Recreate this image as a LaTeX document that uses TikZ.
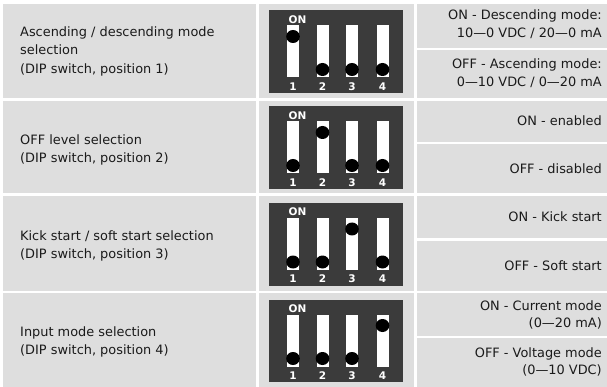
\documentclass[tikz,border=0pt]{standalone}
\usepackage{fontspec}
\setmainfont{DejaVu Sans}
\definecolor{cellgray}{HTML}{DEDEDE}
\definecolor{dipgray}{HTML}{3B3B3B}
\definecolor{txt}{HTML}{1A1A1A}
\tikzset{
  cell/.style={fill=cellgray},
  lefttext/.style={anchor=west, align=left, text=txt, font=\fontsize{12.9}{18.5}\selectfont, inner sep=0pt},
  righttext/.style={anchor=east, align=right, text=txt, font=\fontsize{12.9}{17.5}\selectfont, inner sep=0pt},
  diplabel/.style={text=white, font=\bfseries\fontsize{10.5}{11}\selectfont, inner sep=0pt},
}
\newcommand\dipswitch[3]{% #1 top y, #2 index switched ON, #3 name
  \fill[dipgray] (269,#1) rectangle (403,#1+82.5);
  \node[diplabel] (#3on) at (297.5,#1+9) {ON};
  \foreach \i/\xc in {1/293,2/322.5,3/352,4/382.5} {
    \fill[white] (\xc-6,#1+15) rectangle (\xc+6,#1+67);
    \ifnum\i=#2
      \fill[black] (\xc,#1+26) ellipse (6.8 and 6.5);
    \else
      \fill[black] (\xc,#1+59) ellipse (6.8 and 6.5);
    \fi
    \node[diplabel] (#3n\i) at (\xc,#1+76) {\i};
  }
}
\begin{document}
\begin{tikzpicture}[x=1pt,y=-1pt]
\useasboundingbox (0,0) rectangle (607,387);
\fill[white] (0,0) rectangle (607,387);
% row 1
\fill[cell] (3,4) rectangle (256,98.5);
\fill[cell] (259,4) rectangle (414,98.5);
\fill[cell] (417,4) rectangle (607,48);
\fill[cell] (417,50.5) rectangle (607,98.5);
% row 2
\fill[cell] (3,101) rectangle (256,193.5);
\fill[cell] (259,101) rectangle (414,193.5);
\fill[cell] (417,101) rectangle (607,142);
\fill[cell] (417,144.5) rectangle (607,193.5);
% row 3
\fill[cell] (3,196) rectangle (256,290.5);
\fill[cell] (259,196) rectangle (414,290.5);
\fill[cell] (417,196) rectangle (607,238.5);
\fill[cell] (417,241) rectangle (607,290.5);
% row 4
\fill[cell] (3,293) rectangle (256,387);
\fill[cell] (259,293) rectangle (414,387);
\fill[cell] (417,293) rectangle (607,335.5);
\fill[cell] (417,338) rectangle (607,387);

% left texts
\node[lefttext] (l1) at (20,51) {Ascending / descending mode\\selection\\(DIP switch, position 1)};
\node[lefttext] (l2) at (20,150) {OFF level selection\\(DIP switch, position 2)};
\node[lefttext] (l3) at (20,246) {Kick start / soft start selection\\(DIP switch, position 3)};
\node[lefttext] (l4) at (20,342) {Input mode selection\\(DIP switch, position 4)};

% DIP switches
\dipswitch{10.5}{1}{d1}
\dipswitch{106.5}{2}{d2}
\dipswitch{203}{3}{d3}
\dipswitch{299.5}{4}{d4}

% right texts
\node[righttext] (r1a) at (602,24) {ON - Descending mode:\\10—0 VDC / 20—0 mA};
\node[righttext] (r1b) at (602,73) {OFF - Ascending mode:\\0—10 VDC / 0—20 mA};
\node[righttext] (r2a) at (602,121) {ON - enabled};
\node[righttext] (r2b) at (602,169) {OFF - disabled};
\node[righttext] (r3a) at (602,217) {ON - Kick start};
\node[righttext] (r3b) at (602,266) {OFF - Soft start};
\node[righttext] (r4a) at (602,315) {ON - Current mode\\(0—20 mA)};
\node[righttext] (r4b) at (602,362) {OFF - Voltage mode\\(0—10 VDC)};
\end{tikzpicture}
\end{document}
